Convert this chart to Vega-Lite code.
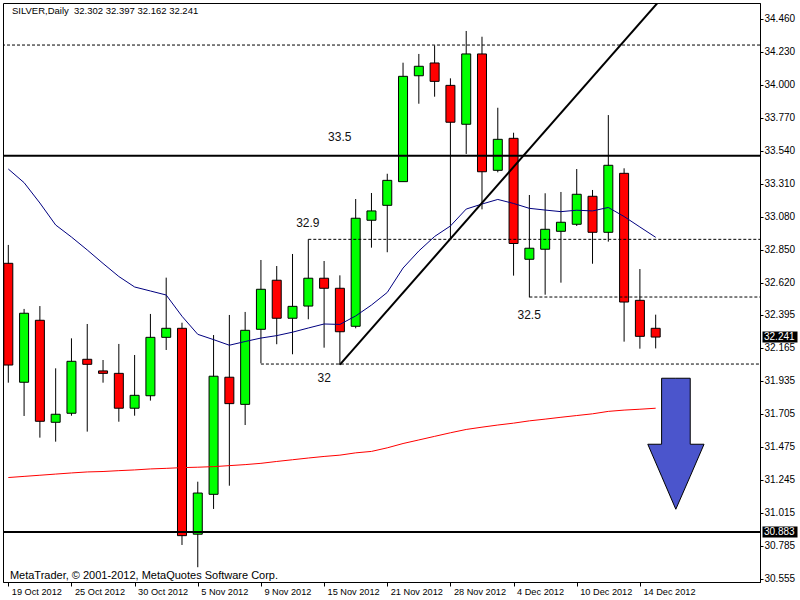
{
  "$schema": "https://vega.github.io/schema/vega-lite/v6.json",
  "width": 757,
  "height": 579,
  "autosize": {"type": "none"},
  "padding": {"left": 3, "top": 3, "right": 40, "bottom": 18},
  "background": "white",
  "config": {
    "view": {"stroke": "black", "strokeWidth": 1},
    "font": "Liberation Sans",
    "axis": {"labelFont": "Liberation Sans", "labelColor": "black", "domainColor": "black", "tickColor": "black", "grid": false, "title": null, "labelOverlap": false, "labelFlush": false},
    "axisY": {"labelOverlap": false, "labelFontSize": 10, "tickCount": 40},
    "axisX": {"labelOverlap": false, "labelFontSize": 9.2}
  },
  "datasets": {
    "candles": [
      {"i":0,"o":32.755,"h":32.883,"l":31.923,"c":32.046,"maFast":33.412,"maSlow":31.262},
      {"i":1,"o":31.926,"h":32.437,"l":31.691,"c":32.407,"maFast":33.317,"maSlow":31.270},
      {"i":2,"o":32.358,"h":32.457,"l":31.540,"c":31.654,"maFast":33.175,"maSlow":31.278},
      {"i":3,"o":31.647,"h":32.023,"l":31.512,"c":31.703,"maFast":33.022,"maSlow":31.286},
      {"i":4,"o":31.710,"h":32.232,"l":31.693,"c":32.072,"maFast":32.938,"maSlow":31.294},
      {"i":5,"o":32.086,"h":32.332,"l":31.582,"c":32.051,"maFast":32.848,"maSlow":31.301},
      {"i":6,"o":32.005,"h":32.081,"l":31.923,"c":31.988,"maFast":32.754,"maSlow":31.304},
      {"i":7,"o":31.988,"h":32.193,"l":31.651,"c":31.745,"maFast":32.663,"maSlow":31.310},
      {"i":8,"o":31.745,"h":32.116,"l":31.693,"c":31.835,"maFast":32.590,"maSlow":31.315},
      {"i":9,"o":31.832,"h":32.402,"l":31.798,"c":32.239,"maFast":32.562,"maSlow":31.322},
      {"i":10,"o":32.239,"h":32.655,"l":32.151,"c":32.302,"maFast":32.534,"maSlow":31.326},
      {"i":11,"o":32.302,"h":32.341,"l":30.792,"c":30.857,"maFast":32.386,"maSlow":31.331},
      {"i":12,"o":30.867,"h":31.233,"l":30.637,"c":31.154,"maFast":32.260,"maSlow":31.334},
      {"i":13,"o":31.145,"h":32.255,"l":31.043,"c":31.968,"maFast":32.223,"maSlow":31.338},
      {"i":14,"o":31.961,"h":32.395,"l":31.205,"c":31.777,"maFast":32.184,"maSlow":31.345},
      {"i":15,"o":31.772,"h":32.416,"l":31.628,"c":32.288,"maFast":32.210,"maSlow":31.352},
      {"i":16,"o":32.295,"h":32.778,"l":32.058,"c":32.574,"maFast":32.234,"maSlow":31.361},
      {"i":17,"o":32.637,"h":32.736,"l":32.191,"c":32.372,"maFast":32.251,"maSlow":31.374},
      {"i":18,"o":32.372,"h":32.820,"l":32.121,"c":32.455,"maFast":32.275,"maSlow":31.386},
      {"i":19,"o":32.457,"h":32.922,"l":32.365,"c":32.651,"maFast":32.304,"maSlow":31.398},
      {"i":20,"o":32.651,"h":32.771,"l":32.167,"c":32.581,"maFast":32.332,"maSlow":31.409},
      {"i":21,"o":32.581,"h":32.671,"l":32.046,"c":32.278,"maFast":32.329,"maSlow":31.418},
      {"i":22,"o":32.316,"h":33.203,"l":32.302,"c":33.069,"maFast":32.388,"maSlow":31.434},
      {"i":23,"o":33.055,"h":33.245,"l":32.864,"c":33.120,"maFast":32.464,"maSlow":31.444},
      {"i":24,"o":33.159,"h":33.379,"l":32.832,"c":33.333,"maFast":32.552,"maSlow":31.469},
      {"i":25,"o":33.324,"h":34.153,"l":33.324,"c":34.058,"maFast":32.722,"maSlow":31.499},
      {"i":26,"o":34.062,"h":34.214,"l":33.867,"c":34.128,"maFast":32.841,"maSlow":31.524},
      {"i":27,"o":34.151,"h":34.274,"l":33.916,"c":34.023,"maFast":32.942,"maSlow":31.549},
      {"i":28,"o":33.995,"h":34.044,"l":32.922,"c":33.738,"maFast":33.015,"maSlow":31.574},
      {"i":29,"o":33.724,"h":34.374,"l":33.517,"c":34.214,"maFast":33.133,"maSlow":31.597},
      {"i":30,"o":34.214,"h":34.334,"l":33.131,"c":33.393,"maFast":33.168,"maSlow":31.613},
      {"i":31,"o":33.403,"h":33.839,"l":33.389,"c":33.619,"maFast":33.200,"maSlow":31.628},
      {"i":32,"o":33.626,"h":33.665,"l":32.669,"c":32.893,"maFast":33.172,"maSlow":31.641},
      {"i":33,"o":32.783,"h":33.231,"l":32.518,"c":32.860,"maFast":33.138,"maSlow":31.657},
      {"i":34,"o":32.853,"h":33.243,"l":32.536,"c":32.992,"maFast":33.126,"maSlow":31.669},
      {"i":35,"o":32.978,"h":33.252,"l":32.620,"c":33.041,"maFast":33.115,"maSlow":31.682},
      {"i":36,"o":33.027,"h":33.412,"l":33.015,"c":33.236,"maFast":33.125,"maSlow":31.694},
      {"i":37,"o":33.222,"h":33.266,"l":32.752,"c":32.971,"maFast":33.120,"maSlow":31.706},
      {"i":38,"o":32.971,"h":33.788,"l":32.906,"c":33.438,"maFast":33.144,"maSlow":31.723},
      {"i":39,"o":33.382,"h":33.417,"l":32.209,"c":32.485,"maFast":33.081,"maSlow":31.732},
      {"i":40,"o":32.497,"h":32.715,"l":32.160,"c":32.246,"maFast":33.008,"maSlow":31.738},
      {"i":41,"o":32.302,"h":32.397,"l":32.162,"c":32.241,"maFast":32.936,"maSlow":31.745}
    ],
    "solidLevels": [{"p": 33.505}, {"p": 30.883}],
    "fullDashed": [{"p": 34.276}],
    "partDashed": [{"s": 19, "p": 32.922}, {"s": 33, "p": 32.520}, {"s": 16, "p": 32.053}],
    "trend": [{"i": 21, "p": 32.049}, {"i": 42, "p": 34.68}],
    "arrow": [
      {"ax": 40.5, "top": 31.494, "bot": 31.494},
      {"ax": 41.375, "top": 31.494, "bot": 31.271},
      {"ax": 41.375, "top": 31.954, "bot": 31.271},
      {"ax": 42.275, "top": 31.954, "bot": 31.041},
      {"ax": 43.1875, "top": 31.954, "bot": 31.271},
      {"ax": 43.1875, "top": 31.494, "bot": 31.271},
      {"ax": 44.0625, "top": 31.494, "bot": 31.494}
    ],
    "notes": [
      {"t": "33.5", "i": 20.25, "p": 33.634},
      {"t": "32.9", "i": 18.23, "p": 33.036},
      {"t": "32.5", "i": 32.25, "p": 32.395},
      {"t": "32", "i": 19.59, "p": 31.956}
    ],
    "captions": [
      {"t": "SILVER,Daily\u00a0 32.302 32.397 32.162 32.241", "i": 0.23, "p": 34.513, "fs": 9.5},
      {"t": "MetaTrader, © 2001-2012, MetaQuotes Software Corp.", "i": 0.1, "p": 30.579, "fs": 11}
    ],
    "marked": [{"p": 32.241}, {"p": 30.883}]
  },
  "layer": [
    {
      "data": {"name": "candles"},
      "mark": {"type": "rule", "color": "black", "strokeWidth": 1},
      "encoding": {
        "x": {"field": "i", "type": "quantitative",
          "scale": {"domain": [-0.019, 47.29], "nice": false, "zero": false},
          "axis": {"orient": "bottom", "values": [0,4,8,12,16,20,24,28,32,36,40], "tickCount": 40,
            "labelExpr": "['19 Oct 2012','25 Oct 2012','30 Oct 2012','5 Nov 2012','9 Nov 2012','15 Nov 2012','21 Nov 2012','28 Nov 2012','4 Dec 2012','10 Dec 2012','14 Dec 2012'][round(datum.value/4)]",
            "labelAlign": "left", "labelBaseline": "top", "labelOffset": 3, "labelPadding": 1,
            "labelFontSize": 9.2, "tickSize": 4, "labelOverlap": false, "labelBound": false, "labelFlush": false}},
        "y": {"field": "l", "type": "quantitative",
          "scale": {"domain": [30.534, 34.569], "nice": false, "zero": false},
          "axis": {"orient": "right", "values": [30.555,30.785,31.015,31.245,31.475,31.705,31.935,32.165,32.395,32.620,32.850,33.080,33.310,33.540,33.770,34.000,34.230,34.460], "tickCount": 40,
            "format": ".3f", "labelFontSize": 10, "tickSize": 3, "labelPadding": 1, "labelAlign": "left", "labelBaseline": "middle", "labelOverlap": false, "labelFlush": false}},
        "y2": {"field": "h"}
      }
    },
    {
      "data": {"name": "candles"},
      "mark": {"type": "bar", "width": 9, "stroke": "black", "strokeWidth": 1, "clip": true},
      "encoding": {
        "x": {"field": "i", "type": "quantitative"},
        "y": {"field": "o", "type": "quantitative"},
        "y2": {"field": "c"},
        "fill": {"condition": {"test": "datum.c >= datum.o", "value": "#00ff00"}, "value": "#ff0000"}
      }
    },
    {
      "data": {"name": "candles"},
      "mark": {"type": "line", "color": "#ff0000", "strokeWidth": 1},
      "encoding": {
        "x": {"field": "i", "type": "quantitative"},
        "y": {"field": "maSlow", "type": "quantitative"}
      }
    },
    {
      "data": {"name": "candles"},
      "mark": {"type": "line", "color": "#000080", "strokeWidth": 1},
      "encoding": {
        "x": {"field": "i", "type": "quantitative"},
        "y": {"field": "maFast", "type": "quantitative"}
      }
    },
    {
      "data": {"name": "solidLevels"},
      "mark": {"type": "rule", "color": "black", "strokeWidth": 2},
      "encoding": {"y": {"field": "p", "type": "quantitative"}}
    },
    {
      "data": {"name": "fullDashed"},
      "mark": {"type": "rule", "color": "black", "strokeWidth": 1, "strokeDash": [3, 2]},
      "encoding": {"y": {"field": "p", "type": "quantitative"}}
    },
    {
      "data": {"name": "partDashed"},
      "mark": {"type": "rule", "color": "black", "strokeWidth": 1, "strokeDash": [3, 2]},
      "encoding": {
        "x": {"field": "s", "type": "quantitative"},
        "x2": {"value": "width"},
        "y": {"field": "p", "type": "quantitative"}
      }
    },
    {
      "data": {"name": "trend"},
      "mark": {"type": "line", "color": "black", "strokeWidth": 2, "clip": true},
      "encoding": {
        "x": {"field": "i", "type": "quantitative"},
        "y": {"field": "p", "type": "quantitative"}
      }
    },
    {
      "data": {"name": "arrow"},
      "mark": {"type": "area", "fill": "#4b55cc", "stroke": "black", "strokeWidth": 1, "opacity": 1, "fillOpacity": 1},
      "encoding": {
        "x": {"field": "ax", "type": "quantitative"},
        "y": {"field": "top", "type": "quantitative", "stack": null},
        "y2": {"field": "bot"}
      }
    },
    {
      "data": {"name": "notes"},
      "mark": {"type": "text", "align": "left", "baseline": "middle", "fontSize": 12, "color": "#111111", "font": "Liberation Sans"},
      "encoding": {
        "x": {"field": "i", "type": "quantitative"},
        "y": {"field": "p", "type": "quantitative"},
        "text": {"field": "t"}
      }
    },
    {
      "data": {"name": "captions"},
      "mark": {"type": "text", "align": "left", "baseline": "middle", "color": "black", "font": "Liberation Sans"},
      "encoding": {
        "x": {"field": "i", "type": "quantitative"},
        "y": {"field": "p", "type": "quantitative"},
        "text": {"field": "t"},
        "size": {"field": "fs", "type": "quantitative", "scale": null, "legend": null}
      }
    },
    {
      "data": {"name": "marked"},
      "mark": {"type": "point", "shape": "M-1,-0.3143L1,-0.3143L1,0.3143L-1,0.3143Z", "size": 1225, "filled": true, "color": "black", "opacity": 1, "strokeWidth": 0, "xOffset": 20},
      "encoding": {
        "x": {"value": "width"},
        "y": {"field": "p", "type": "quantitative"}
      }
    },
    {
      "data": {"name": "marked"},
      "mark": {"type": "text", "align": "left", "baseline": "middle", "fontSize": 10, "color": "white", "dx": 4, "font": "Liberation Sans"},
      "encoding": {
        "x": {"value": "width"},
        "y": {"field": "p", "type": "quantitative"},
        "text": {"field": "p", "type": "quantitative", "format": ".3f"}
      }
    }
  ]
}
